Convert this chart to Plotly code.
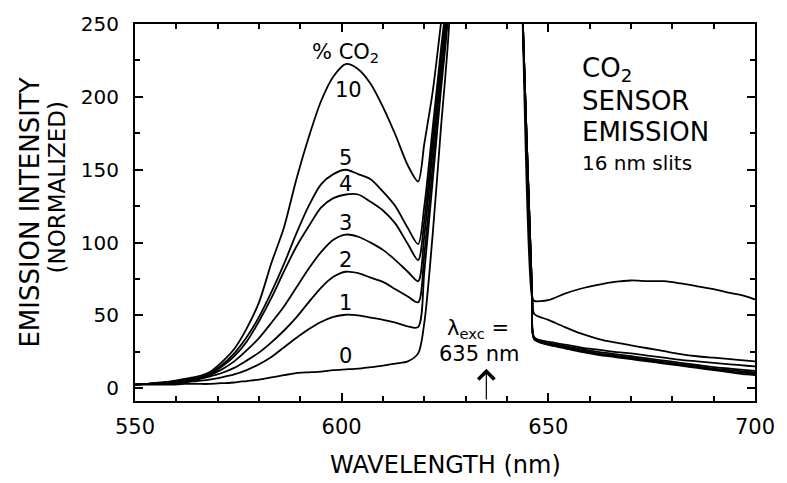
import plotly.graph_objects as go

# Emission spectra of the CO2 sensor, 16 nm slits, excitation at 635 nm.
# Wavelength grid (nm): blue side up to the excitation band, then red side.
wl_blue = [550, 553, 556, 559, 562, 565, 568, 571, 574, 577, 580, 583, 586,
           589, 592, 595, 598, 601, 604, 607, 610, 613, 616, 618.5, 620, 622,
           624, 626, 630]
wl_red = [640, 643.5, 646.1, 646.6, 650, 654, 658, 662, 666, 670, 674, 678,
          682, 686, 690, 694, 698, 700]
wavelength = wl_blue + wl_red

co2_levels = ["10", "5", "4", "3", "2", "1", "0"]

em_10 = [2.5, 3, 4, 5, 6.5, 8, 11, 18, 27, 41, 59, 86, 110, 143, 172, 197, 214,
         222.5, 219, 209, 193, 174, 153, 142, 168, 203, 250, 300, 600,
         600, 280, 62, 60, 60.5, 65, 68.5, 71, 73, 74, 73.5, 73.5, 72, 70, 68,
         65.5, 63, 61]
em_5 = [2.5, 3, 3.5, 4.5, 5.5, 7, 10, 16, 24, 35, 49, 66, 85, 106, 125, 140, 147,
        150, 147, 143.5, 135, 125, 110, 99, 125, 178, 232, 285, 600,
        600, 280, 62, 51, 47, 42, 37.5, 34, 31.5, 29.5, 27.5, 25.5, 23.5, 22,
        21, 20, 19, 18.5]
em_4 = [2.5, 3, 3.5, 4.5, 5.5, 7, 9.5, 15, 22, 32, 46, 62, 80, 97, 111, 124,
        130.5, 133, 133, 128, 122, 113, 99, 88, 115, 170, 226, 280, 600,
        600, 280, 62, 35, 32, 30, 28, 26.5, 25, 24, 22.5, 21, 19.5, 18.5, 17.5,
        16.5, 15.5, 15]
em_3 = [2.5, 3, 3.5, 4, 5, 6.5, 9, 13, 18.5, 26, 34.5, 45, 56, 69, 82, 93.5, 102,
        105.5, 104, 100, 95, 88, 80, 73.5, 105, 162, 220, 276, 600,
        600, 280, 62, 34.5, 31, 29, 27, 25, 23.5, 22, 20.5, 19, 17.5, 16, 14.5,
        13.5, 12.5, 12]
em_2 = [2.5, 3, 3.5, 4, 4.5, 6, 8, 10.5, 14, 19, 24.5, 31.5, 39.5, 48.5, 59, 69,
        76.5, 80, 79, 76, 73, 68, 63, 59, 92, 152, 212, 270, 600,
        600, 280, 62, 34, 30.5, 28.5, 26, 24, 22.5, 21, 19.5, 18, 16.5, 15,
        13.5, 12.5, 11.5, 11]
em_1 = [2.5, 3, 3.5, 3.5, 4, 5, 6, 7.5, 9.5, 12.5, 16.5, 21.5, 28, 34.5, 40.5,
        45.5, 49, 50.5, 50, 48.5, 47, 45, 42.5, 42, 80, 142, 204, 265, 600,
        600, 280, 62, 34, 30, 28, 25.5, 23.5, 22, 20.5, 19, 17.5, 16, 14.5, 13,
        11.5, 10.5, 10]
em_0 = [2.5, 2.5, 2.5, 2.5, 3, 3, 3, 3.5, 4, 5, 6, 7.5, 9, 10.5, 11, 11.5, 12.5,
        13, 13.5, 14.5, 15.5, 17, 18.5, 24, 45, 105, 178, 250, 600,
        600, 280, 62, 33.5, 30, 27.5, 25, 23, 21.5, 20, 18.5, 17, 15.5, 14, 12.5,
        11, 9.5, 9]
spectra = [em_10, em_5, em_4, em_3, em_2, em_1, em_0]

# Curve label anchor points (wavelength, intensity)
label_x = [601.7, 600.9, 600.9, 600.9, 600.9, 600.9, 600.9]
label_y = [204.8, 158, 140, 113.4, 87.8, 58.8, 22]

excitation_nm = 635
x_ticks = [550, 600, 650, 700]
y_ticks = [0, 50, 100, 150, 200, 250]

FONT = "DejaVu Sans"
INK = "black"

fig = go.Figure()
for lvl, ys in zip(co2_levels, spectra):
    fig.add_trace(go.Scatter(x=wavelength, y=ys, mode="lines", name=lvl + "% CO2",
                             line=dict(color=INK, width=1.8, shape="spline",
                                       smoothing=0.8),
                             showlegend=False, hoverinfo="skip"))

ann = []
for lvl, lx, ly in zip(co2_levels, label_x, label_y):
    ann.append(dict(x=lx, y=ly, xref="x", yref="y", text=lvl, showarrow=False,
                    font=dict(family=FONT, size=21, color=INK)))
ann.append(dict(x=600.9, y=230.4, xref="x", yref="y", text="% CO<sub>2</sub>",
                showarrow=False, font=dict(family=FONT, size=21, color=INK)))

# Panel caption
for txt, yy, sz in [("CO<sub>2</sub>", 218.5, 26), ("SENSOR", 197, 26),
                    ("EMISSION", 176, 26), ("16 nm slits", 154.4, 20)]:
    ann.append(dict(x=657.7, y=yy, xref="x", yref="y", text=txt, showarrow=False,
                    xanchor="left", yanchor="middle",
                    font=dict(family=FONT, size=sz, color=INK)))

# Excitation wavelength marker
ann.append(dict(x=632.9, y=40.5, xref="x", yref="y", text="λ<sub>exc</sub> =",
                showarrow=False, font=dict(family=FONT, size=21, color=INK)))
ann.append(dict(x=633.4, y=23.5, xref="x", yref="y", text=f"{excitation_nm} nm",
                showarrow=False, font=dict(family=FONT, size=21, color=INK)))
ann.append(dict(x=excitation_nm, y=13.4, xref="x", yref="y",
                ax=excitation_nm, ay=-8.7, axref="x", ayref="y",
                text="", showarrow=True, arrowhead=4, arrowsize=2.6,
                arrowwidth=1.2, arrowcolor=INK))

# Axis titles
ann.append(dict(x=0.5, y=-0.1705, xref="paper", yref="paper",
                text="WAVELENGTH (nm)", showarrow=False, yanchor="middle",
                font=dict(family=FONT, size=24, color=INK)))
ann.append(dict(x=-0.17, y=0.4987, xref="paper", yref="paper",
                text="EMISSION INTENSITY", showarrow=False, textangle=-90,
                xanchor="center", yanchor="middle",
                font=dict(family=FONT, size=26, color=INK)))
ann.append(dict(x=-0.126, y=0.566, xref="paper", yref="paper",
                text="(NORMALIZED)", showarrow=False, textangle=-90,
                xanchor="center", yanchor="middle",
                font=dict(family=FONT, size=23, color=INK)))

fig.update_layout(
    width=787, height=483,
    margin=dict(l=135, r=28, t=14, b=82),
    paper_bgcolor="white", plot_bgcolor="white",
    showlegend=False,
    annotations=ann,
    xaxis=dict(range=[550, 700], tickvals=x_ticks, ticks="inside", ticklen=8,
               tickwidth=1.5, tickcolor=INK, showline=True, linewidth=2,
               linecolor=INK, mirror="allticks", showgrid=False, zeroline=False,
               ticklabelstandoff=6,
               tickfont=dict(family=FONT, size=21, color=INK),
               minor=dict(dtick=10, tick0=550, ticks="inside", ticklen=5,
                          tickwidth=1.5, tickcolor=INK, showgrid=False)),
    yaxis=dict(range=[-8.7, 250], tickvals=y_ticks, ticks="inside", ticklen=8,
               tickwidth=1.5, tickcolor=INK, showline=True, linewidth=2,
               linecolor=INK, mirror="allticks", showgrid=False, zeroline=False,
               ticklabelstandoff=10,
               tickfont=dict(family=FONT, size=20, color=INK),
               minor=dict(dtick=25, tick0=0, ticks="inside", ticklen=5,
                          tickwidth=1.5, tickcolor=INK, showgrid=False)),
)

fig.write_html("out.html")
